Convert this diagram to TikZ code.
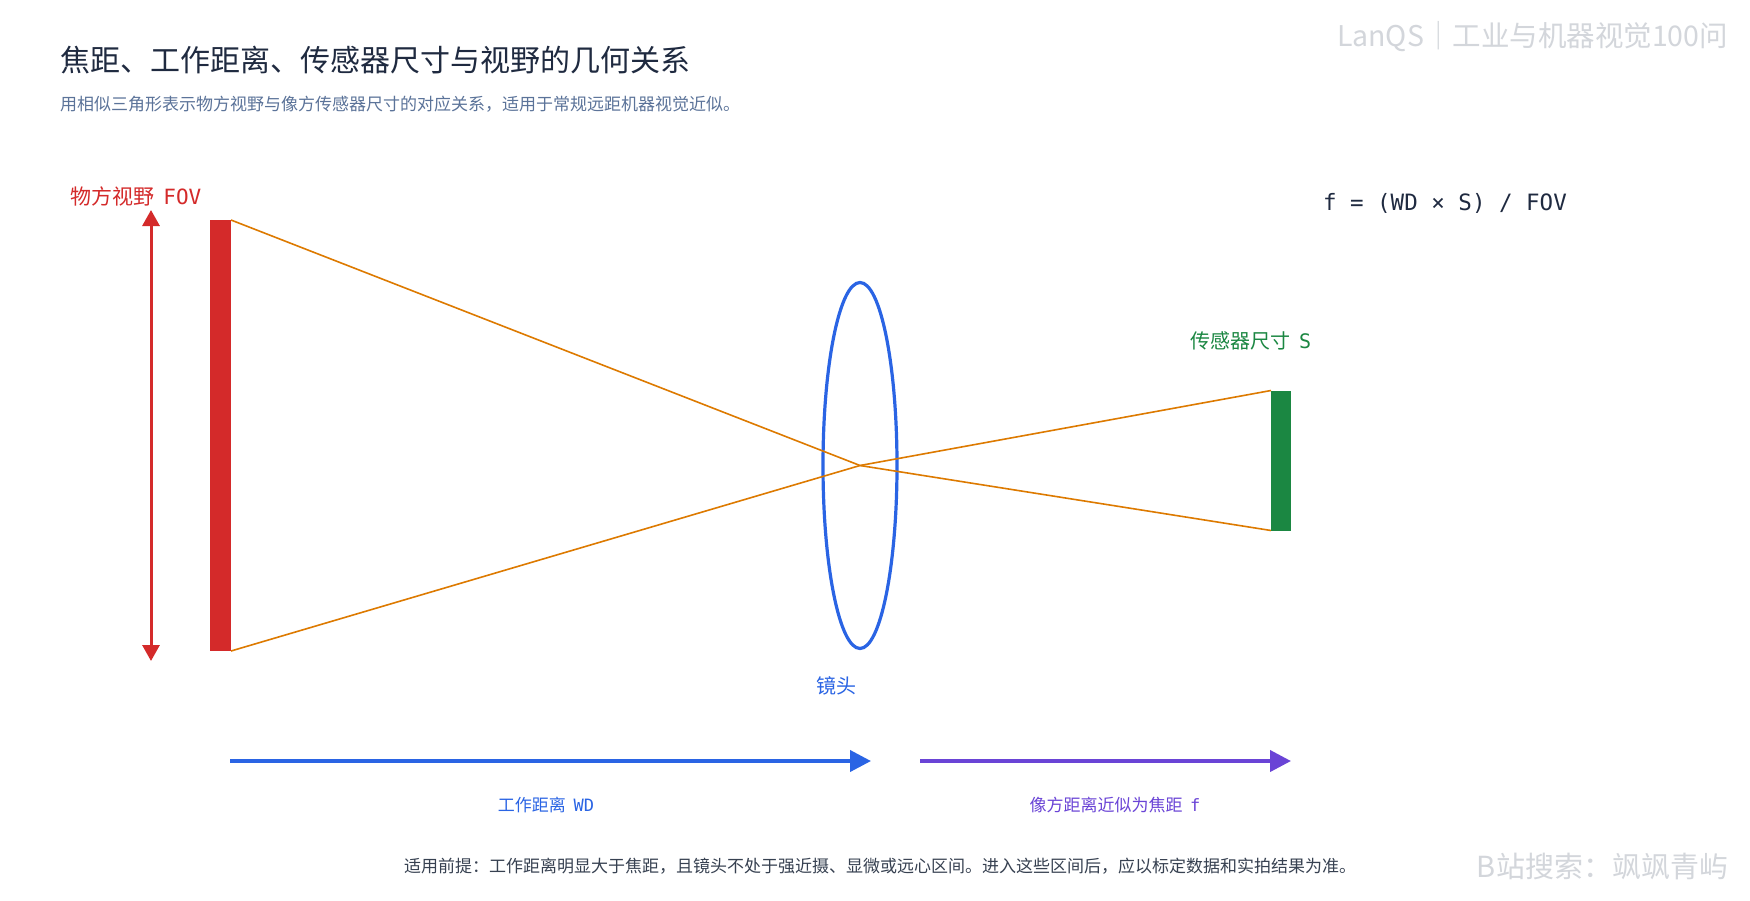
\documentclass[tikz,border=0pt]{standalone}
\usepackage{fontspec}
\setmainfont{Noto Sans CJK SC}
\newfontfamily\cjk{Noto Sans CJK SC}
\newfontfamily\mono{DejaVu Sans Mono}
\usetikzlibrary{arrows.meta,shapes.geometric}
\definecolor{titlec}{HTML}{1F2A40}
\definecolor{subc}{HTML}{5B7399}
\definecolor{redc}{HTML}{D42A2A}
\definecolor{orangec}{HTML}{DD7A00}
\definecolor{bluec}{HTML}{2A64E4}
\definecolor{greenc}{HTML}{1B8742}
\definecolor{purplec}{HTML}{6A44D6}
\definecolor{notec}{HTML}{374151}
\definecolor{wmc}{HTML}{D3D6DB}
\newcommand\myfs[1]{\fontsize{#1}{#1}\selectfont}
\begin{document}
\begin{tikzpicture}[x=1pt,y=-1pt,
  txt/.style={inner sep=0pt, outer sep=0pt},
  bar/.style={draw=none, inner sep=0pt, outer sep=0pt, rectangle},
  ray/.style={draw=orangec, line width=1.6pt, line join=miter},
  distarrow/.style={line width=4pt, -{Triangle[length=21pt,width=21pt]}},
]
\fill[white] (0,0) rectangle (1750,900);
\useasboundingbox (0,0) rectangle (1750,900);

% titles
\node[txt, anchor=west, text=titlec, font=\cjk\myfs{30}] (title) at (60,60.5) {焦距、工作距离、传感器尺寸与视野的几何关系};
\node[txt, anchor=west, text=subc, font=\cjk\myfs{17}] (sub) at (60,104.5) {用相似三角形表示物方视野与像方传感器尺寸的对应关系，适用于常规远距机器视觉近似。};
\node[txt, anchor=east, text=wmc, font=\cjk\myfs{28.5}] (wm1) at (1728,37) {LanQS｜工业与机器视觉100问};
\node[txt, anchor=east, text=wmc, font=\cjk\myfs{29}] (wm2) at (1728,866) {B站搜索：飒飒青屿};

% formula
\node[txt, anchor=west, text=titlec, font=\mono\myfs{22.5}] (formula) at (1323,203) {f = (WD × S) / FOV};

% object field of view
\node[bar, fill=redc, minimum width=21pt, minimum height=431pt] (fov) at (220.5,435.5) {};
\coordinate (fovtop) at (151,210);
\coordinate (fovbot) at (151,661);
\draw[redc, line width=3pt, {Triangle[length=16pt,width=17pt]}-{Triangle[length=16pt,width=17pt]}] (fovtop) -- (fovbot);
\node[txt, anchor=west, text=redc, font=\cjk\myfs{21}] (fovlabel) at (70,196.5) {物方视野\hspace{0.45em}{\mono FOV}};

% lens
\node[ellipse, draw=bluec, line width=3.2pt, minimum width=74pt, minimum height=366pt, inner sep=0pt] (lens) at (860,465.5) {};
\node[txt, text=bluec, font=\cjk\myfs{20}] (lenslabel) at (836,686) {镜头};

% sensor
\node[bar, fill=greenc, minimum width=20pt, minimum height=140pt] (sensor) at (1281,460.5) {};
\node[txt, anchor=west, text=greenc, font=\cjk\myfs{20}] (sensorlabel) at (1190,341) {传感器尺寸\hspace{0.45em}{\mono S}};

% rays
\draw[ray] (fov.north east) -- (lens.center) -- (sensor.south west);
\draw[ray] (fov.south east) -- (lens.center) -- (sensor.north west);

% distance arrows
\coordinate (wds) at (230,761);
\coordinate (wde) at (871,761);
\coordinate (fs) at (920,761);
\coordinate (fe) at (1291,761);
\draw[distarrow, bluec] (wds) -- (wde);
\draw[distarrow, purplec] (fs) -- (fe);
\node[txt, text=bluec, font=\cjk\myfs{17}] (wdlabel) at (546,805) {工作距离\hspace{0.45em}{\mono WD}};
\node[txt, text=purplec, font=\cjk\myfs{17}] (flabel) at (1115,805) {像方距离近似为焦距\hspace{0.45em}{\mono f}};

% note
\node[txt, text=notec, font=\cjk\myfs{17}] (note) at (880,866) {适用前提：工作距离明显大于焦距，且镜头不处于强近摄、显微或远心区间。进入这些区间后，应以标定数据和实拍结果为准。};
\end{tikzpicture}
\end{document}
